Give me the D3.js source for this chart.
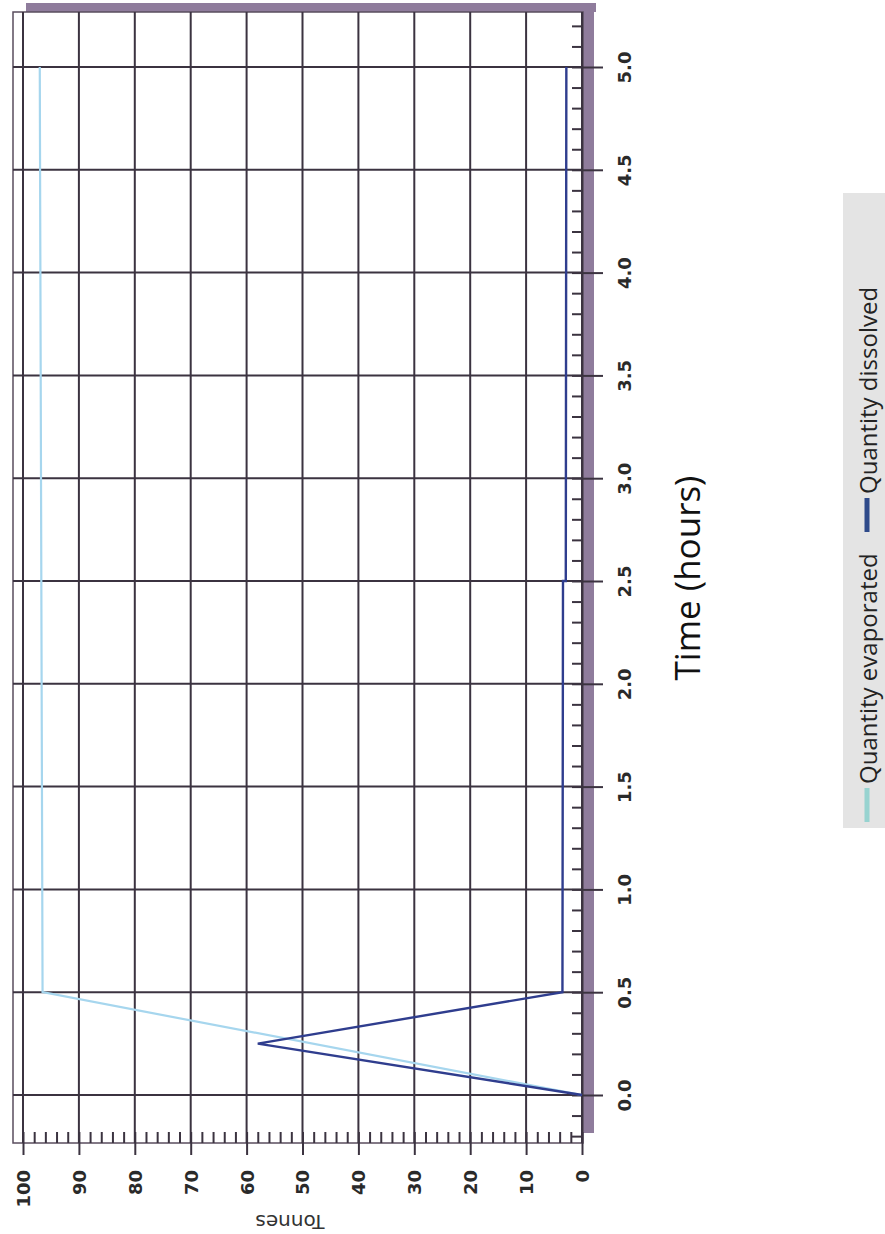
<!DOCTYPE html>
<html>
<head>
<meta charset="utf-8">
<script src="https://cdn.jsdelivr.net/npm/d3@7"></script>
<style>
  body { margin: 0; background: #fff; }
  .grid line { stroke: #3b3340; stroke-width: 2; }
  .axis path { display: none; }
  .axis line { stroke: #3b3340; stroke-width: 2; }
  .axis text { font-family: "DejaVu Sans", sans-serif; font-weight: bold; fill: #2a2a2a; }
</style>
</head>
<body>
<div id="chart"></div>
<script>
// data (chart is drawn rotated: tonnes run right-to-left, time runs bottom-to-top)
var tonnesTicks = [0, 10, 20, 30, 40, 50, 60, 70, 80, 90, 100];
var timeTicks = [0.0, 0.5, 1.0, 1.5, 2.0, 2.5, 3.0, 3.5, 4.0, 4.5, 5.0];
var timeLabels = ["0.0", "0.5", "1.0", "1.5", "2.0", "2.5", "3.0", "3.5", "4.0", "4.5", "5.0"];

var evapTime   = [0, 0.5, 5.0];
var evapTonnes = [0, 96.5, 97];

var dissTime   = [0, 0.25, 0.5, 2.5, 2.5, 5.0];
var dissTonnes = [0, 58, 3.5, 3.4, 2.9, 2.8];

var legendLabels = ["Quantity evaporated", "Quantity dissolved"];
var legendColors = ["#97d3d0", "#2e4a8a"];

var width = 885, height = 1234;

// plot frame
var plotLeft = 13, plotRight = 583, plotTop = 12, plotBottom = 1143;

var svg = d3.select("#chart")
  .append("svg")
    .attr("width", width)
    .attr("height", height);

var x = d3.scaleLinear().domain([0, 100]).range([582, 23]);
var y = d3.scaleLinear().domain([0, 5]).range([1095, 67]);

// purple shadow border
svg.append("rect")
    .attr("x", 26).attr("y", 3)
    .attr("width", 570).attr("height", 9)
    .attr("fill", "#8f7c9c");
svg.append("rect")
    .attr("x", plotRight).attr("y", 3)
    .attr("width", 11).attr("height", 1130)
    .attr("fill", "#8f7c9c");

// white plot area + frame
svg.append("rect")
    .attr("x", plotLeft).attr("y", plotTop)
    .attr("width", plotRight - plotLeft).attr("height", plotBottom - plotTop)
    .attr("fill", "#fff")
    .attr("stroke", "#5a4d5e")
    .attr("stroke-width", 1.5);

// grid
var grid = svg.append("g").attr("class", "grid");
grid.selectAll(".v").data(tonnesTicks).enter().append("line")
    .attr("x1", function(d) { return x(d); })
    .attr("x2", function(d) { return x(d); })
    .attr("y1", plotTop).attr("y2", plotBottom);
grid.selectAll(".h").data(timeTicks).enter().append("line")
    .attr("x1", plotLeft).attr("x2", plotRight)
    .attr("y1", function(d) { return y(d); })
    .attr("y2", function(d) { return y(d); });

// minor ticks
var xMinor = d3.scaleLinear().domain([x.invert(plotLeft), x.invert(plotRight)]);
svg.append("g")
    .attr("class", "axis")
    .attr("transform", "translate(0," + plotBottom + ")")
    .call(d3.axisTop(x).tickValues(xMinor.ticks(50).filter(function(d) { return d >= 0; })).tickSize(11).tickFormat(""))
  .selectAll("line").attr("stroke-width", 1.5);

var yMinor = d3.scaleLinear().domain([y.invert(plotBottom), y.invert(plotTop)]);
svg.append("g")
    .attr("class", "axis")
    .attr("transform", "translate(" + plotRight + ",0)")
    .call(d3.axisLeft(y).tickValues(yMinor.ticks(55)).tickSize(11).tickFormat(""))
  .selectAll("line").attr("stroke-width", 1.5);

// tonnes axis (bottom)
var xAxis = svg.append("g")
    .attr("class", "axis")
    .attr("transform", "translate(0," + plotBottom + ")")
    .call(d3.axisBottom(x).tickValues(tonnesTicks).tickSize(12));
xAxis.selectAll("text")
    .attr("transform", "rotate(-90)")
    .attr("x", -27)
    .attr("y", 0)
    .attr("dy", "0.36em")
    .style("text-anchor", "end")
    .style("font-size", "18px");

// time axis (right)
var yAxis = svg.append("g")
    .attr("class", "axis")
    .attr("transform", "translate(" + plotRight + ",0)")
    .call(d3.axisRight(y).tickValues(timeTicks).tickSize(20)
      .tickFormat(function(d, i) { return timeLabels[i]; }));
yAxis.selectAll("text")
    .attr("transform", "rotate(-90)")
    .attr("x", 0)
    .attr("y", 42)
    .attr("dy", "0.36em")
    .style("text-anchor", "middle")
    .style("font-size", "18px");

// lines
var line = d3.line()
    .x(function(d) { return x(d[1]); })
    .y(function(d) { return y(d[0]); });

svg.append("path")
    .datum(d3.zip(evapTime, evapTonnes))
    .attr("fill", "none")
    .attr("stroke", "#a6d6ee")
    .attr("stroke-width", 2.2)
    .attr("d", line);

svg.append("path")
    .datum(d3.zip(dissTime, dissTonnes))
    .attr("fill", "none")
    .attr("stroke", "#2f3d8e")
    .attr("stroke-width", 2.4)
    .attr("d", line);

// axis titles
svg.append("text")
    .attr("transform", "translate(688,578) rotate(-90)")
    .attr("dy", "0.35em")
    .style("text-anchor", "middle")
    .style("font-family", "'Open Sans', sans-serif")
    .style("font-size", "35px")
    .style("fill", "#111")
    .text("Time (hours)");

svg.append("text")
    .attr("transform", "translate(290,1222) rotate(180)")
    .attr("dy", "0.35em")
    .style("text-anchor", "middle")
    .style("font-family", "'DejaVu Sans', sans-serif")
    .style("font-size", "20px")
    .style("fill", "#333")
    .text("Tonnes");

// legend
var legend = svg.append("g");
legend.append("rect")
    .attr("x", 843).attr("y", 193)
    .attr("width", 42).attr("height", 635)
    .attr("fill", "#e4e4e4");

var legendY = [822, 532];
legendLabels.forEach(function(lab, i) {
  legend.append("line")
      .attr("x1", 867).attr("x2", 867)
      .attr("y1", legendY[i]).attr("y2", legendY[i] - 34)
      .attr("stroke", legendColors[i])
      .attr("stroke-width", 5);
  legend.append("text")
      .attr("transform", "translate(868," + (legendY[i] - 38) + ") rotate(-90)")
      .attr("dy", "0.36em")
      .style("font-family", "'Open Sans', sans-serif")
      .style("font-size", "24px")
      .style("fill", "#222")
      .text(lab);
});
</script>
</body>
</html>
